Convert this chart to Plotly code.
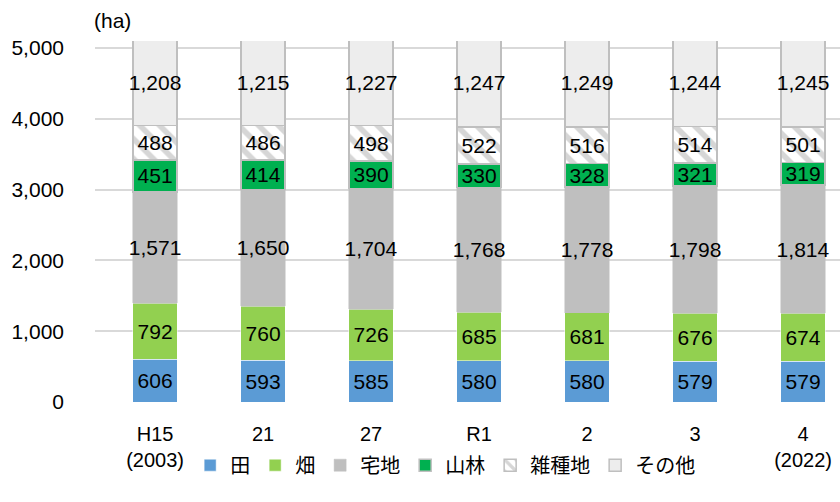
import plotly.graph_objects as go

categories = ["H15<br>(2003)", "21", "27", "R1", "2", "3", "4<br>(2022)"]
ta = [606, 593, 585, 580, 580, 579, 579]
hatake = [792, 760, 726, 685, 681, 676, 674]
takuchi = [1571, 1650, 1704, 1768, 1778, 1798, 1814]
sanrin = [451, 414, 390, 330, 328, 321, 319]
zasshu = [488, 486, 498, 522, 516, 514, 501]
sonota = [1208, 1215, 1227, 1247, 1249, 1244, 1245]

series = [
    ("田", ta, "#5b9bd5", "#ffffff", 0.5, ""),
    ("畑", hatake, "#92d050", "#ffffff", 0.5, ""),
    ("宅地", takuchi, "#bfbfbf", "#bfbfbf", 0.5, ""),
    ("山林", sanrin, "#00b050", "#bfbfbf", 1.5, ""),
    ("雑種地", zasshu, "#ffffff", "#bfbfbf", 1.5, "\\"),
    ("その他", sonota, "#ededed", "#bfbfbf", 1.5, ""),
]

FONT = "Liberation Sans, Noto Sans CJK JP"
x = list(range(len(categories)))
fig = go.Figure()
for name, vals, color, lcolor, lw, shape in series:
    marker = dict(color=color, line=dict(color=lcolor, width=lw))
    if shape:
        marker["pattern"] = dict(shape=shape, fgcolor="#d6d6d6", bgcolor="#ffffff",
                                 size=14, solidity=0.4, fillmode="replace")
    fig.add_trace(go.Bar(
        name=name, x=x, y=vals, marker=marker, width=0.41,
        text=[f"{v:,}" for v in vals], texttemplate="%{text}",
        textposition="inside", insidetextanchor="middle", textangle=0,
        textfont=dict(color="#000000", size=21, family=FONT),
        constraintext="none", cliponaxis=True,
    ))

fig.update_layout(
    barmode="stack",
    width=840, height=502,
    margin=dict(l=95, r=0, t=41, b=100, autoexpand=False),
    paper_bgcolor="white", plot_bgcolor="white",
    font=dict(family=FONT, size=21, color="#000000"),
    legend=dict(orientation="h", x=0.47, xanchor="center", y=-0.175, yanchor="middle",
                font=dict(size=20, family="Noto Sans CJK JP"),
                traceorder="normal", itemclick=False),
)
fig.update_xaxes(
    tickmode="array", tickvals=x, ticktext=categories,
    range=[-0.556, 6.342], showgrid=False, zeroline=False, showline=False,
    ticks="", tickfont=dict(size=20), ticklabelstandoff=18,
)
fig.update_yaxes(
    range=[0, 5099], tickvals=[0, 1000, 2000, 3000, 4000, 5000],
    ticktext=["0", "1,000", "2,000", "3,000", "4,000", "5,000"],
    showgrid=True, gridcolor="#d9d9d9", gridwidth=1.5, zeroline=False,
    showline=False, ticks="", ticklabelstandoff=30, tickfont=dict(size=21),
)
fig.add_annotation(text="(ha)", xref="paper", yref="paper", x=0.023, y=1.058,
                   xanchor="center", yanchor="middle", showarrow=False,
                   font=dict(size=21))
fig.write_html("out.html", config={"displayModeBar": False},
               post_script="document.body.style.margin='0';document.body.style.overflow='hidden';")
